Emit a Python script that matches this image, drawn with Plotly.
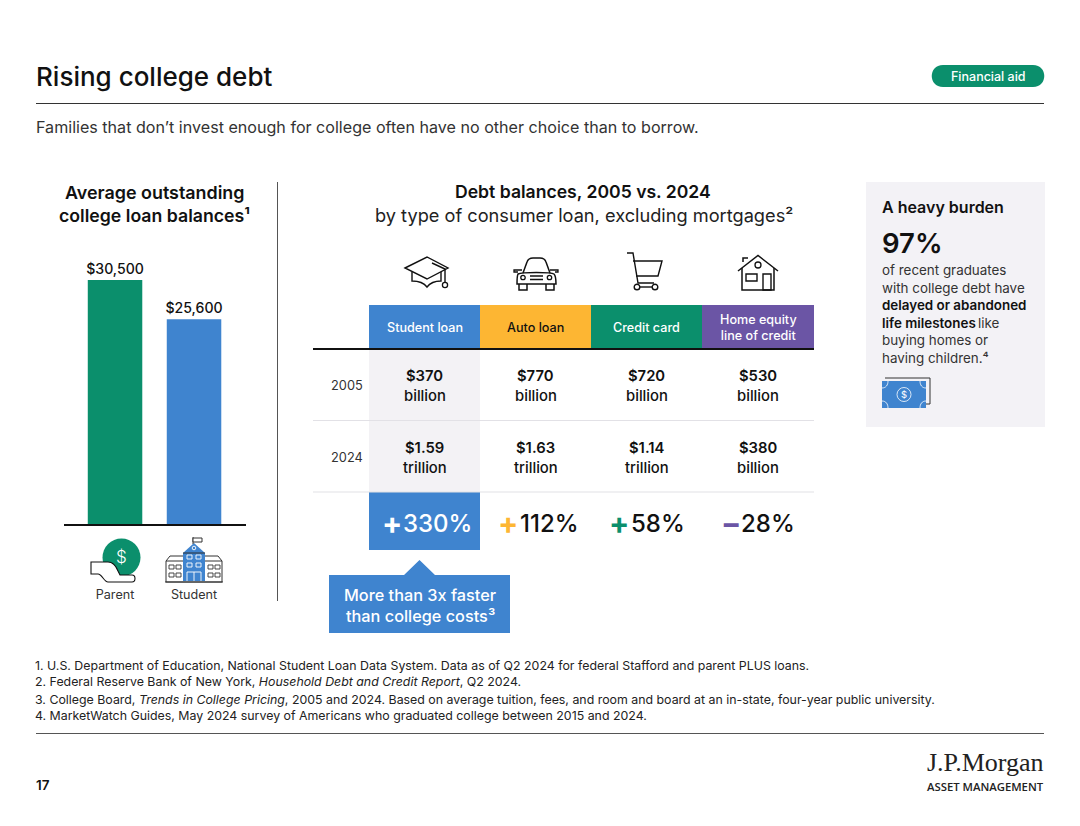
import plotly.graph_objects as go

# ---------- data ----------
borrowers = ["Parent", "Student"]
balances = [30500, 25600]
balance_colors = ["#0B8F6C", "#3F84CF"]

loan_types = ["Student loan", "Auto loan", "Credit card", "Home equity<br>line of credit"]
loan_colors = ["#3F84CF", "#FDB633", "#0B8F6C", "#6B55A5"]
loan_text_colors = ["#FFFFFF", "#111111", "#FFFFFF", "#FFFFFF"]
years = ["2005", "2024"]
debt_2005 = ["$370", "$770", "$720", "$530"]
unit_2005 = ["billion", "billion", "billion", "billion"]
debt_2024 = ["$1.59", "$1.63", "$1.14", "$380"]
unit_2024 = ["trillion", "trillion", "trillion", "billion"]
change_sign = ["+", "+", "+", "\u2212"]
change_value = ["330%", "112%", "58%", "28%"]

footnotes = [
    "1. U.S. Department of Education, National Student Loan Data System. Data as of Q2 2024 for federal Stafford and parent PLUS loans.",
    "2. Federal Reserve Bank of New York, <i>Household Debt and Credit Report</i>, Q2 2024.",
    "3. College Board, <i>Trends in College Pricing</i>, 2005 and 2024. Based on average tuition, fees, and room and board at an in-state, four-year public university.",
    "4. MarketWatch Guides, May 2024 survey of Americans who graduated college between 2015 and 2024.",
]

# ---------- styling ----------
W, H = 1080, 826
FONT = "Inter"
INK = "#111111"
COL_X = [424.5, 535.5, 646.5, 758]
COL_EDGES = [369, 480, 591, 702, 814]

shapes, annots = [], []


def text(x, y, s, size=13, color=INK, anchor="center", weight=400, family=FONT):
    annots.append(dict(xref="x2", yref="y2", x=x, y=y, text=s, showarrow=False,
                       xanchor=anchor, yanchor="middle", align=anchor if anchor != "center" else "center",
                       borderpad=0, font=dict(family=family, size=size, color=color, weight=weight)))


def rect(x0, y0, x1, y1, fill, layer="below"):
    shapes.append(dict(type="rect", xref="x2", yref="y2", x0=x0, y0=y0, x1=x1, y1=y1,
                       fillcolor=fill, line=dict(width=0), layer=layer))


def line(x0, y0, x1, y1, color=INK, width=1):
    shapes.append(dict(type="line", xref="x2", yref="y2", x0=x0, y0=y0, x1=x1, y1=y1,
                       line=dict(color=color, width=width), layer="above"))


def path(d, stroke=INK, width=1.4, fill="rgba(0,0,0,0)"):
    shapes.append(dict(type="path", xref="x2", yref="y2", path=d, fillcolor=fill,
                       line=dict(color=stroke, width=width), layer="above"))


def circle(cx, cy, r, stroke=INK, width=1.4, fill="rgba(0,0,0,0)"):
    shapes.append(dict(type="circle", xref="x2", yref="y2", x0=cx - r, y0=cy - r, x1=cx + r, y1=cy + r,
                       fillcolor=fill, line=dict(color=stroke, width=width), layer="above"))


def box(x, y, w, h, stroke, width=0.9):
    path(f"M{x} {y} H{x + w} V{y + h} H{x} Z", stroke, width)


# ---------- header ----------
text(35, 76.5, "Rising college debt", 26, "#111111", "left", 500)
path("M943 65 H1033 C1048 65 1048 87 1033 87 H943 C928 87 928 65 943 65 Z", "#0B8F6C", 0, "#0B8F6C")
text(988, 76, "Financial aid", 12.5, "#FFFFFF", "center", 500)
line(36, 103.5, 1044, 103.5, "#333333", 1)
text(35, 127, "Families that don\u2019t invest enough for college often have no other choice than to borrow.",
     16.1, "#333333", "left")

# ---------- left panel ----------
text(154.5, 192, "Average outstanding", 17.9, INK, "center", 600)
text(154.5, 215, "college loan balances\u00b9", 17.7, INK, "center", 600)
line(277.5, 182, 277.5, 601, "#555555", 1)

# parent icon
circle(121.5, 557.5, 19, "#0B8F6C", 0, "#0B8F6C")
text(121.5, 557, "$", 17, "#FFFFFF", "center", 300)
path("M91 562 H108 C113 562 116 566 118 571 L120 575 H132 C136 575 136 582 132 582 "
     "H108 C104 582 102 574 98 574 H91 Z", INK, 1.1, "#FFFFFF")

# school icon
rect(166, 556, 222, 582, "#FFFFFF", "above")
path("M166 582 V561 L170 556 H218 L222 561 V582 Z", "#333333", 1)
path("M166 561 H183 M205 561 H222", "#333333", 1)
path("M183 581 V553 L194 543 L205 553 V581 Z", "#3F84CF", 0, "#3F84CF")
path("M183 553 H205", "#333333", 1)
line(193, 537, 193, 544, "#333333", 1)
path("M193 538 H202 V542 H193 Z", "#333333", 1, "#FFFFFF")
circle(194, 548, 1.8, "#FFFFFF", 0.9)
for wx in (169, 176, 208, 215):
    for wy in (565, 573):
        box(wx, wy, 5, 4, "#333333")
for wx in (187, 196):
    for wy in (555, 563):
        box(wx, wy, 5, 4, "#FFFFFF")
path("M187 581 V572 H201 V581 M194 572 V581", "#FFFFFF", 0.9)
line(165, 582, 223, 582, "#333333", 1.2)

# ---------- middle panel ----------
text(583, 191, "Debt balances, 2005 vs. 2024", 17.6, INK, "center", 600)
text(583.5, 215, "by type of consumer loan, excluding mortgages\u00b2", 18.2, "#222222", "center")

# graduation cap
path("M405 268 L427 257 L448 268 L427 279 Z", INK, 1.4)
path("M412 272 V281 C420 281 424 283 427 287 C430 283 434 281 441 281 V272", INK, 1.4)
path("M432 263 L445 269 V282", INK, 1.4)
circle(445, 285, 2.6, INK, 1.3)
# car
path("M523 273 L527 262 C528 259 530 258 533 258 H540 C543 258 545 259 546 262 L550 273", INK, 1.5)
path("M518 274 C522 272 551 272 554 274 C556 276 556 279 556 284 H517 C517 279 517 276 518 274 Z", INK, 1.5)
path("M519 284 V290 H527 V284 M546 284 V290 H554 V284", INK, 1.5)
path("M518 272 H514 V270 H522 M555 272 H558 V270 H550", INK, 1.3)
circle(523, 277.5, 2.2, INK, 1.3)
circle(549.5, 277.5, 2.2, INK, 1.3)
path("M530 276 H543 M530 279.5 H543", INK, 1.3)
# cart
path("M627 253 H633 L638 283 H654 M633 261 H662 L658 276 H636", INK, 1.4)
circle(637, 287, 2.8, INK, 1.4)
circle(655, 287, 2.8, INK, 1.4)
path("M640 287 H652", INK, 1.4)
# house
path("M738 271 L758 255.5 L778 271", INK, 1.5)
path("M742 268 V290 H774 V268", INK, 1.5)
path("M743 262 V258 H748 V258", INK, 1.5)
circle(758, 265, 3, INK, 1.3)
path("M746 274 H757 V281 H746 Z", INK, 1.4)
path("M763 274 H771 V290 H763 Z", INK, 1.4)

# table head
for i, label in enumerate(loan_types):
    rect(COL_EDGES[i], 305, COL_EDGES[i + 1], 349, loan_colors[i])
    text((COL_EDGES[i] + COL_EDGES[i + 1]) / 2, 327.5, label, 12.6, loan_text_colors[i], "center", 500)

# table body
rect(369, 349, 480, 492, "#F3F2F5")
line(313, 349, 814, 349, "#111111", 2)
line(313, 420.5, 814, 420.5, "#E2E1E6", 1.2)
line(313, 492, 814, 492, "#E2E1E6", 1.2)
for y_top, year, vals, units in ((376, years[0], debt_2005, unit_2005), (448, years[1], debt_2024, unit_2024)):
    text(346.5, y_top + 9.5, year, 12.8, "#333333")
    for cx, v, u in zip(COL_X, vals, units):
        text(cx, y_top, v, 14.8, INK, "center", 600)
        text(cx, y_top + 20, u, 14.8, INK, "center", 500)

# change row
rect(369, 492, 480, 550, "#3F84CF")
SIGN_X = [391.5, 508, 619, 730.5]
VALUE_X = [402, 519, 630, 740]
for i, (sx, vx, sign, val) in enumerate(zip(SIGN_X, VALUE_X, change_sign, change_value)):
    sign_color = "#FFFFFF" if i == 0 else loan_colors[i]
    val_color = "#FFFFFF" if i == 0 else INK
    text(sx, 522.5, sign, 30, sign_color, "center", 700)
    text(vx, 523, val, 24, val_color, "left", 500)

# callout
path("M329 575 H404 L419.5 560 L435 575 H510 V633 H329 Z", "#3F84CF", 0, "#3F84CF")
text(420, 594.5, "More than 3x faster", 16.3, "#FFFFFF", "center", 500)
text(420, 616, "than college costs\u00b3", 16.3, "#FFFFFF", "center", 500)

# ---------- right panel ----------
rect(866, 182, 1045, 427, "#F3F2F6")
text(881, 207, "A heavy burden", 16, INK, "left", 600)
text(881, 243, "97%", 27.5, INK, "left", 600)
text(881, 270, "of recent graduates", 13.4, "#333333", "left")
text(881, 288, "with college debt have", 13.4, "#333333", "left")
text(881, 305, "delayed or abandoned", 13.4, INK, "left", 600)
text(881, 323, "life milestones", 13.4, INK, "left", 600)
text(977, 323, "like", 13.4, "#333333", "left")
text(881, 340, "buying homes or", 13.4, "#333333", "left")
text(881, 358, "having children.\u2074", 13.4, "#333333", "left")
path("M885 378 H930 V404 H926", "#333333", 1)
rect(882, 381, 926, 408, "#3F84CF", "above")
circle(904, 394.5, 7, "#FFFFFF", 0.8)
text(904, 394.5, "$", 9.5, "#FFFFFF")
path("M882 388 C886 388 888 385 888 381 M920 381 C920 385 922 388 926 388 "
     "M882 401 C886 401 888 404 888 408 M926 401 C922 401 920 404 920 408", "#FFFFFF", 0.8)

# ---------- footer ----------
for fy, s in zip((665, 681.5, 699, 715.5), footnotes):
    text(34, fy, s, 12.36, "#222222", "left")
line(36, 733.5, 1044, 733.5, "#555555", 1)
text(35, 785, "17", 13.5, INK, "left", 600)
text(1045, 762, "J.P.Morgan", 26, "#222222", "right", 400, "Liberation Serif")
text(1045, 786, "ASSET MANAGEMENT", 11.3, "#222222", "right", 600, "Open Sans")

# ---------- figure ----------
BASE_Y, TOP_Y = 524, 252
px_per_dollar = (524 - 280) / balances[0]

fig = go.Figure(go.Bar(
    x=borrowers, y=balances, marker=dict(color=balance_colors, line=dict(width=0)),
    width=0.69, text=[f"${v:,}" for v in balances], textposition="outside", cliponaxis=False,
    constraintext="none",
    textfont=dict(family=FONT, size=14.1, color=INK, weight=500), hoverinfo="skip",
))

fig.update_layout(
    width=W, height=H, margin=dict(l=0, r=0, t=0, b=0, pad=0),
    paper_bgcolor="#FFFFFF", plot_bgcolor="rgba(0,0,0,0)", showlegend=False,
    font=dict(family=FONT), shapes=shapes, annotations=annots,
    xaxis=dict(domain=[64 / W, 246 / W], range=[-0.646, 1.658], type="category", fixedrange=True,
               showgrid=False, zeroline=False, showline=True, linecolor="#111111", linewidth=2,
               ticks="outside", ticklen=58, tickcolor="rgba(0,0,0,0)",
               tickfont=dict(family=FONT, size=12.6, color="#333333")),
    yaxis=dict(domain=[(H - BASE_Y) / H, (H - TOP_Y) / H], range=[0, (BASE_Y - TOP_Y) / px_per_dollar],
               visible=False, fixedrange=True),
    xaxis2=dict(domain=[0, 1], range=[0, W], visible=False, anchor="y2", fixedrange=True),
    yaxis2=dict(domain=[0, 1], range=[H, 0], visible=False, anchor="x2", fixedrange=True),
)

fig.write_html("out.html", config=dict(displayModeBar=False, staticPlot=True),
               post_script="document.body.style.margin='0';document.body.style.overflow='hidden';")
